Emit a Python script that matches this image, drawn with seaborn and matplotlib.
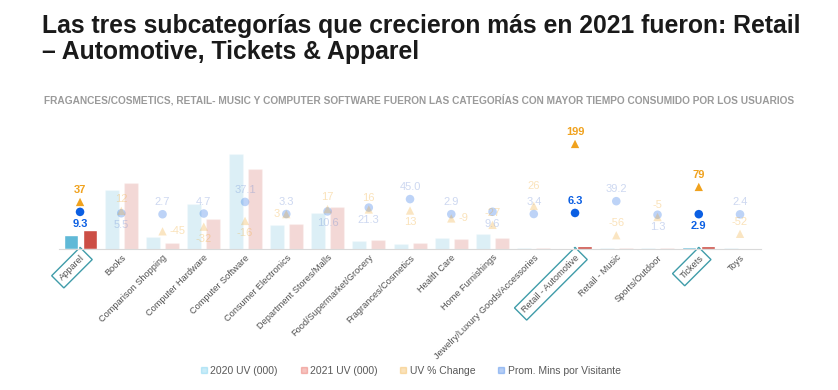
import numpy as np
import pandas as pd
import seaborn as sns
import matplotlib.pyplot as plt
from matplotlib.lines import Line2D

sns.set_style("white")
plt.rcParams['font.family'] = ['Liberation Sans', 'DejaVu Sans']

# data
categories = ["Apparel", "Books", "Comparison Shopping", "Computer Hardware",
              "Computer Software", "Consumer Electronics", "Department Stores/Malls",
              "Food/Supermarket/Grocery", "Fragrances/Cosmetics", "Health Care",
              "Home Furnishings", "Jewelry/Luxury Goods/Accessories",
              "Retail - Automotive", "Retail - Music", "Sports/Outdoor", "Tickets", "Toys"]
uv_2020 = [1400, 5900, 1200, 4500, 9500, 2400, 3600, 800, 500, 1100, 1500, 120, 100, 120, 110, 170, 100]
uv_2021 = [1920, 6600, 650, 3050, 8000, 2480, 4200, 930, 570, 1000, 1100, 150, 300, 55, 105, 300, 50]
uv_change = [37, 12, -45, -32, -16, 3, 17, 16, 13, -9, -27, 26, 199, -56, -5, 79, -52]
avg_mins = [9.3, 5.5, 2.7, 4.7, 37.1, 3.3, 10.6, 21.3, 45.0, 2.9, 9.6, 3.4, 6.3, 39.2, 1.3, 2.9, 2.4]
highlight = ["Apparel", "Retail - Automotive", "Tickets"]

# label placement: a = above, A = higher, b = below, r = right, l = left
mins_pos = list("bbaaaabbaabaaabba")
chg_pos = list("aarbblaabraAaaaaa")

C20, C21, CCHG, CMIN = "#4cc3eb", "#e33b2e", "#f0a21e", "#0b5fe3"
FADE = 0.22

fig = plt.figure(figsize=(8.38, 3.9), dpi=100)
ax = fig.add_axes([0.0709, 0.3615, 0.8368, 0.2795])

df = pd.DataFrame({"cat": categories * 2,
                   "uv": uv_2020 + uv_2021,
                   "year": ["2020 UV (000)"] * len(categories) + ["2021 UV (000)"] * len(categories)})
sns.barplot(data=df, x="cat", y="uv", hue="year", palette=[C20, C21],
            width=0.92, gap=0.26, ax=ax, legend=False)
for cont in ax.containers:
    for i, p in enumerate(cont.patches):
        if categories[i] not in highlight:
            p.set_alpha(FADE)
ax.set_ylim(0, 10900)
ax.set_xlim(-0.5, len(categories) - 0.5)
ax.set_xlabel("")
ax.set_ylabel("")
ax.set_yticks([])
for s in ["top", "right", "left"]:
    ax.spines[s].set_visible(False)
ax.spines["bottom"].set_color("#d9d9d9")
ax.tick_params(axis="x", length=0, pad=3)
ax.set_xticks(range(len(categories)))
ax.set_xticklabels(categories, rotation=45, ha="right", va="top",
                   rotation_mode="anchor", fontsize=6.6, color="#505050")
for lbl in ax.get_xticklabels():
    if lbl.get_text() in highlight:
        lbl.set_bbox(dict(facecolor="white", edgecolor="#3f9ca9", lw=1, pad=3))

ax2 = ax.twinx()
ax2.set_ylim(-94.4, 210)
ax2.set_yticks([])
for s in ax2.spines.values():
    s.set_visible(False)

xpos = np.arange(len(categories))
is_hi = np.array([c in highlight for c in categories])
chg = np.array(uv_change, dtype=float)
mins = np.array(avg_mins, dtype=float)
for mask, a in [(~is_hi, FADE + 0.05), (is_hi, 1.0)]:
    sns.scatterplot(x=xpos[mask], y=mins[mask], color=CMIN, marker="o", s=38,
                    alpha=a, edgecolor="none", ax=ax2)
    sns.scatterplot(x=xpos[mask], y=chg[mask], color=CCHG, marker="^", s=36,
                    alpha=a, edgecolor="none", ax=ax2)

offs = {"a": ((0, 5), "center", "bottom"), "A": ((0, 11), "center", "bottom"),
        "b": ((0, -5), "center", "top"),
        "r": ((5, 0), "left", "center"), "l": ((-5, 0), "right", "center")}
for i in range(len(categories)):
    hi = is_hi[i]
    a = 1.0 if hi else 0.3
    w = "bold" if hi else "normal"
    xy, ha, va = offs[mins_pos[i]]
    ax2.annotate(f"{avg_mins[i]:.1f}", (xpos[i], avg_mins[i]), xytext=xy,
                 textcoords="offset points", ha=ha, va=va, fontsize=8,
                 color=CMIN if hi else "#5a7fd0", alpha=a, weight=w)
    xy, ha, va = offs[chg_pos[i]]
    ax2.annotate(f"{uv_change[i]}", (xpos[i], uv_change[i]), xytext=xy,
                 textcoords="offset points", ha=ha, va=va, fontsize=8,
                 color=CCHG, alpha=a, weight=w)

fig.text(0.05, 0.965, "Las tres subcategorías que crecieron más en 2021 fueron: Retail\n– Automotive, Tickets & Apparel",
         ha="left", va="top", fontsize=17.8, weight="bold", color="#1a1a1a", linespacing=1.15)
fig.text(0.5, 0.744, "FRAGANCES/COSMETICS, RETAIL- MUSIC Y COMPUTER SOFTWARE FUERON LAS CATEGORÍAS CON MAYOR TIEMPO CONSUMIDO POR LOS USUARIOS",
         ha="center", va="center", fontsize=7.3, weight="bold", color="#9a9a9a",
         family=["Liberation Sans Narrow", "Liberation Sans", "DejaVu Sans"])

handles = [Line2D([], [], ls="", marker="s", ms=4, color=c, alpha=0.3)
           for c in [C20, C21, CCHG, CMIN]]
fig.legend(handles, ["2020 UV (000)", "2021 UV (000)", "UV % Change", "Prom. Mins por Visitante"],
           loc="center", bbox_to_anchor=(0.49, 0.05), ncol=4, frameon=False,
           fontsize=7.5, labelcolor="#595959", handlelength=0.6, handletextpad=0.3,
           columnspacing=2.2)

fig.savefig("out.png", dpi=100)
